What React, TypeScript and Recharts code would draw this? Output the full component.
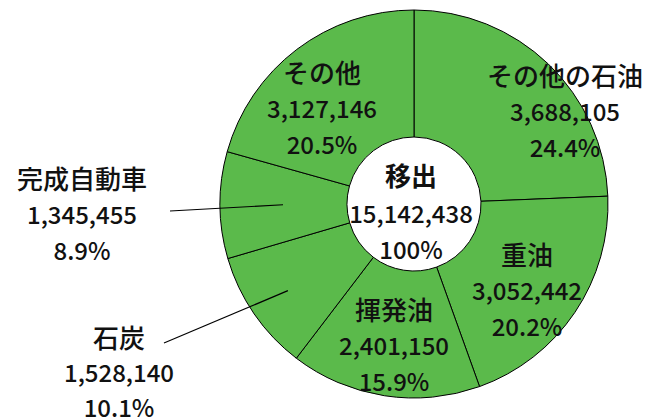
import React from "react";
import { PieChart, Pie, Cell } from "recharts";

const categories = ["その他の石油", "重油", "揮発油", "石炭", "完成自動車", "その他"];
const values = [3688105, 3052442, 2401150, 1528140, 1345455, 3127146];
const percents = ["24.4%", "20.2%", "15.9%", "10.1%", "8.9%", "20.5%"];
const totalLabel = "移出";
const totalValue = "15,142,438";
const totalPercent = "100%";

const data = categories.map((name, i) => ({ name, value: values[i], pct: percents[i] }));

// layout: label middle-line offsets relative to pie center, and optional leader lines
const labelLayout = [
  { dx: 151, dy: -94, gap: 36 },
  { dx: 113, dy: 85, gap: 36 },
  { dx: -20, dy: 140, gap: 36 },
  { dx: -295, dy: 167, gap: 35 },
  { dx: -332, dy: 9, gap: 36 },
  { dx: -92, dy: -97, gap: 36 },
];
const leaders: Record<number, { r: number; ex: number; ey: number }> = {
  3: { r: 153, ex: -250, ey: 139 },
  4: { r: 131, ex: -244, ey: 7 },
};

const RADIAN = Math.PI / 180;
const FONT = '"Noto Sans CJK JP", "Noto Sans", sans-serif';
const GREEN = "#5BBA4B";

const fmt = (v: number) => v.toLocaleString("en-US");

const renderLabel = (props: any) => {
  const { cx, cy, midAngle, index } = props;
  const lay = labelLayout[index];
  const x = cx + lay.dx;
  const y = cy + lay.dy;
  const gap = lay.gap;
  const d = data[index];
  const lead = leaders[index];
  let line = null;
  if (lead) {
    const sx = cx + lead.r * Math.cos(-midAngle * RADIAN);
    const sy = cy + lead.r * Math.sin(-midAngle * RADIAN);
    line = <line x1={sx} y1={sy} x2={cx + lead.ex} y2={cy + lead.ey} stroke="#000" strokeWidth={1.2} />;
  }
  const center =
    index === 0 ? (
      <g>
        <text x={cx - 3} y={cy + 8 - 38} textAnchor="middle" dominantBaseline="central" fontFamily={FONT} fontSize={26} fontWeight={700} fill="#111">
          {totalLabel}
        </text>
        <text x={cx - 3} y={cy + 8} textAnchor="middle" dominantBaseline="central" fontFamily={FONT} fontSize={24} fontWeight={500} fill="#111">
          {totalValue}
        </text>
        <text x={cx - 3} y={cy + 8 + 36} textAnchor="middle" dominantBaseline="central" fontFamily={FONT} fontSize={24} fontWeight={500} fill="#111">
          {totalPercent}
        </text>
      </g>
    ) : null;
  return (
    <g>
      {line}
      <text x={x} y={y - gap} textAnchor="middle" dominantBaseline="central" fontFamily={FONT} fontSize={26} fontWeight={500} fill="#111">
        {d.name}
      </text>
      <text x={x} y={y} textAnchor="middle" dominantBaseline="central" fontFamily={FONT} fontSize={24} fontWeight={500} fill="#111">
        {fmt(d.value)}
      </text>
      <text x={x} y={y + gap} textAnchor="middle" dominantBaseline="central" fontFamily={FONT} fontSize={24} fontWeight={500} fill="#111">
        {d.pct}
      </text>
      {center}
    </g>
  );
};

export default function App() {
  return (
    <div style={{ position: "absolute", left: 0, top: 0, width: 652, height: 419, background: "#fff" }}>
      <PieChart width={652} height={419} margin={{ top: 0, right: 0, bottom: 0, left: 0 }}>
        <Pie
          data={data}
          dataKey="value"
          nameKey="name"
          cx={414}
          cy={204}
          innerRadius={67}
          outerRadius={194}
          startAngle={90}
          endAngle={-270}
          stroke="#000"
          strokeWidth={1}
          label={renderLabel}
          labelLine={false}
          isAnimationActive={false}
        >
          {data.map((d) => (
            <Cell key={d.name} fill={GREEN} />
          ))}
        </Pie>
      </PieChart>
    </div>
  );
}
